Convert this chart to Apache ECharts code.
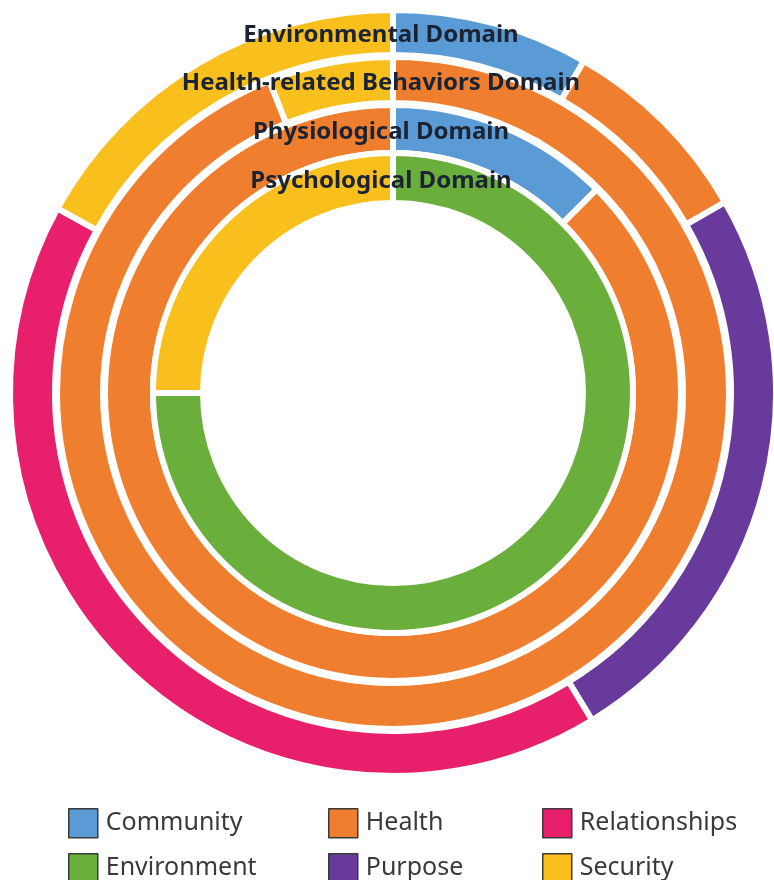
<!DOCTYPE html>
<html>
<head>
<meta charset="utf-8">
<script src="https://cdn.jsdelivr.net/npm/echarts@6/dist/echarts.min.js"></script>
<style>
    html, body { margin: 0; padding: 0; background: #fff; }
    #chart { width: 774px; height: 880px; }
</style>
</head>
<body>
<div id="chart"></div>
<script>
    // 各环名称（由外到内）
    var ringNames = ['Environmental Domain', 'Health-related Behaviors Domain', 'Physiological Domain', 'Psychological Domain'];

    // 每个环的类别和占比（%），从12点方向顺时针
    var envCats = ['Community', 'Health', 'Purpose', 'Relationships', 'Security'];
    var envVals = [8.3, 8.4, 24.6, 41.7, 17.0];
    var behCats = ['Health', 'Security'];
    var behVals = [94, 6];
    var physCats = ['Community', 'Health'];
    var physVals = [12.5, 87.5];
    var psychCats = ['Environment', 'Security'];
    var psychVals = [75, 25];

    // 图例（两行三列）
    var legendRows = [['Community', 'Health', 'Relationships'], ['Environment', 'Purpose', 'Security']];

    var colors = {
        Community: '#5b9bd5',
        Health: '#ef7f2f',
        Relationships: '#e8206b',
        Environment: '#6aae3c',
        Purpose: '#683a9c',
        Security: '#f9bf1c'
    };

    var cx = 393, cy = 393;
    //环的半径 内/外（含白色描边）
    var radii = [[338, 383], [290, 336], [240, 288], [190, 240]];

    var ringData = [
        [envCats, envVals],
        [behCats, behVals],
        [physCats, physVals],
        [psychCats, psychVals]
    ];

    var series = ringData.map(function (r, i) {
        return {
            type: 'pie',
            name: ringNames[i],
            center: [cx, cy],
            radius: radii[i],
            startAngle: 90,
            clockwise: true,
            avoidLabelOverlap: false,
            silent: true,
            label: { show: false },
            labelLine: { show: false },
            itemStyle: { borderColor: '#fff', borderWidth: 6 },
            emphasis: { disabled: true },
            data: r[0].map(function (name, k) {
                return { name: name, value: r[1][k], itemStyle: { color: colors[name] } };
            })
        };
    });

    // 环名称文字
    var texts = ringNames.map(function (name, i) {
        var mid = (radii[i][0] + radii[i][1]) / 2;
        return {
            type: 'text',
            x: cx - 12,
            y: cy - mid + 3,
            style: {
                text: name,
                fill: '#1c2433',
                font: 'bold 24px "Noto Sans"',
                align: 'center',
                verticalAlign: 'middle'
            },
            z: 100
        };
    });

    // 每个图例项单独放置
    var lefts = [63, 323, 537];
    var tops = [803, 848];
    var legends = [];
    legendRows.forEach(function (row, r) {
        row.forEach(function (name, c) {
            legends.push({
                left: lefts[c],
                top: tops[r],
                data: [name],
                icon: 'rect',
                itemWidth: 29,
                itemHeight: 29,
                selectedMode: false,
                itemStyle: { borderColor: '#3a3a3a', borderWidth: 1.5 },
                textStyle: {
                    fontSize: 25,
                    color: '#3a3a3a',
                    fontFamily: 'Noto Sans',
                    padding: [0, 0, 0, 3]
                }
            });
        });
    });

    var myChart = echarts.init(document.getElementById('chart'));
    myChart.setOption({
        backgroundColor: '#fff',
        animation: false,
        legend: legends,
        series: series,
        graphic: texts
    });
</script>
</body>
</html>
